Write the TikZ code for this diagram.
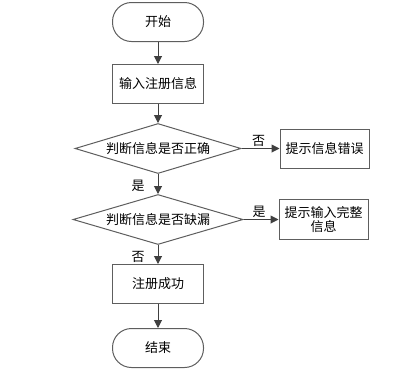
\documentclass[tikz,border=0pt]{standalone}
\usepackage{fontspec}
\setmainfont{Noto Sans CJK SC}
\usetikzlibrary{positioning,arrows.meta,shapes.geometric}

\begin{document}
\begin{tikzpicture}[
  x=1pt, y=-1pt,
  font=\fontsize{13}{14.5}\selectfont,
  terminal/.style={rectangle, rounded corners=19pt, draw=linegray, line width=1pt,
    fill=white, minimum width=91pt, minimum height=39pt, align=center, inner sep=2pt},
  stepbox/.style={rectangle, draw=linegray, line width=1pt, fill=white,
    minimum width=91pt, minimum height=39pt, align=center, inner sep=2pt},
  decision/.style={diamond, draw=linegray, line width=1pt, fill=white,
    minimum width=166pt, minimum height=50pt, aspect=3.3, inner sep=0pt},
  flow/.style={-{Triangle[length=8pt, width=8pt]}, draw=arrowgray, line width=1pt},
  edgelabel/.style={inner sep=1pt},
]
\definecolor{linegray}{HTML}{5E5E5E}
\definecolor{arrowgray}{HTML}{404040}
\useasboundingbox (0,0) rectangle (404,384);

% ---- nodes ----
\node[terminal] (start) at (158,22) {开始};
\node[stepbox, below=22pt of start] (input) {输入注册信息};
\node[decision, below=19pt of input] (check) {判断信息是否正确};
\node[stepbox, right=38pt of check, minimum width=89pt] (wrong) {提示信息错误};
\node[decision, below=20pt of check, minimum width=170pt] (missing) {判断信息是否缺漏};
\node[stepbox, right=35pt of missing, minimum width=89pt, minimum height=40pt]
  (complete) {提示输入完整\\信息};
\node[stepbox, below=19pt of missing] (done) {注册成功};
\node[terminal, below=24pt of done] (finish) {结束};

% ---- edges ----
\draw[flow] (start) -- (input);
\draw[flow] (input) -- (check);
\draw[flow] (check) -- (wrong)
  node[edgelabel, midway, above, xshift=-2pt] {否};
\draw[flow] (check) -- (missing)
  node[edgelabel, midway, left, xshift=-12pt, yshift=-2pt] {是};
\draw[flow] (missing) -- (complete)
  node[edgelabel, midway, above, xshift=-2pt] {是};
\draw[flow] (missing) -- (done)
  node[edgelabel, midway, left, xshift=-12pt, yshift=-2pt] {否};
\draw[flow] (done) -- (finish);

\end{tikzpicture}
\end{document}
